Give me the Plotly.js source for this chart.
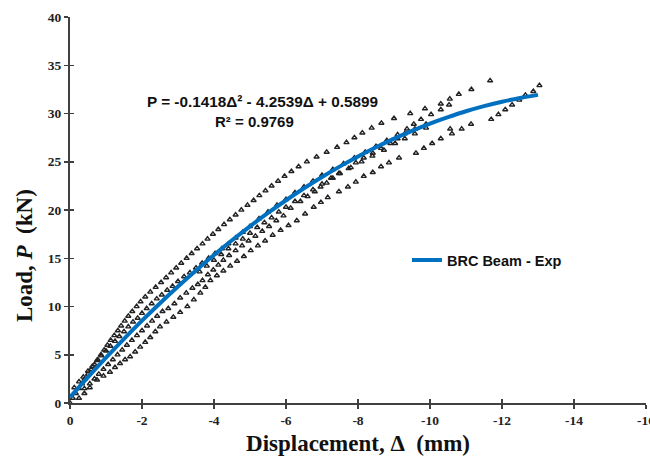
<!DOCTYPE html>
<html>
<head>
<meta charset="utf-8">
<script src="https://cdn.plot.ly/plotly-3.0.1.min.js"></script>
<style>html,body{margin:0;padding:0;background:#fff;}#chart{width:650px;height:459px;}</style>
</head>
<body>
<div id="chart"></div>
<script>
// Fitted curve
const fitX = [0,-0.5,-1,-1.5,-2,-2.5,-3,-3.5,-4,-4.5,-5,-5.5,-6,-6.5,-7,-7.5,-8,-8.5,-9,-9.5,-10,-10.5,-11,-11.5,-12,-12.5,-13];
const fitY = [0.59,2.68,4.70,6.65,8.53,10.34,12.08,13.74,15.34,16.86,18.31,19.70,21.01,22.25,23.42,24.52,25.55,26.50,27.39,28.20,28.95,29.62,30.23,30.76,31.22,31.61,31.93];

const bandAX = [0,-0.08,-0.16,-0.25,-0.33,-0.41,-0.5,-0.59,-0.68,-0.77,-0.86,-0.95,-1.04,-1.13,-1.23,-1.33,-1.42,-1.52,-1.62,-1.73,-1.85,-1.96,-2.09,-2.23,-2.38,-2.53,-2.67,-2.81,-2.95,-3.09,-3.24,-3.38,-3.53,-3.68,-3.82,-3.97,-4.12,-4.28,-4.44,-4.6,-4.76,-4.93,-5.1,-5.26,-5.43,-5.6,-5.78,-5.96,-6.15,-6.35,-6.58,-6.85,-7.13,-7.42,-7.68,-7.9,-8.12,-8.38,-8.65,-9.0,-9.45,-9.86,-10.3,-10.55,-10.8,-11.15,-11.67];
const bandAY = [0,0.5,1.0,1.5,2.0,2.5,3.0,3.5,4.0,4.5,5.0,5.5,6.0,6.5,7.0,7.5,8.0,8.5,9.0,9.5,10.0,10.5,11.0,11.5,12.0,12.5,13.0,13.5,14.0,14.5,15.0,15.5,16.0,16.5,17.0,17.5,18.0,18.5,19.0,19.5,20.0,20.5,21.0,21.5,22.0,22.5,23.0,23.5,24.0,24.5,25.0,25.5,26.0,26.5,27.0,27.5,28.0,28.5,29.0,29.5,30.0,30.5,31.0,31.5,32.0,32.5,33.4];

const bandBX = [-0.12,-0.25,-0.37,-0.5,-0.62,-0.75,-0.87,-1.0,-1.12,-1.25,-1.37,-1.5,-1.62,-1.75,-1.88,-2.0,-2.13,-2.27,-2.41,-2.55,-2.7,-2.85,-3.0,-3.17,-3.33,-3.5,-3.67,-3.85,-4.03,-4.22,-4.4,-4.6,-4.8,-5.0,-5.25,-5.5,-5.75,-6.0,-6.25,-6.5,-6.75,-7.0,-7.3,-7.6,-7.9,-8.2,-8.5,-8.8,-9.1,-9.36,-9.55,-9.75,-10.03,-10.3,-10.53];
const bandBY = [1.6,2.2,2.7,3.3,3.8,4.4,4.9,5.4,5.9,6.4,6.9,7.4,7.9,8.4,8.8,9.3,9.8,10.3,10.8,11.2,11.7,12.1,12.6,13.1,13.5,14.0,14.5,15.0,15.5,16.0,16.5,17.1,17.7,18.3,19.1,19.8,20.5,21.1,21.8,22.4,23.0,23.6,24.2,24.8,25.4,26.0,26.6,27.2,27.8,28.4,28.9,29.4,29.9,30.4,30.9];

const bandCX = [-0.4,-0.55,-0.68,-0.8,-0.93,-1.06,-1.19,-1.32,-1.45,-1.58,-1.72,-1.86,-2.0,-2.14,-2.28,-2.42,-2.57,-2.73,-2.9,-3.06,-3.23,-3.4,-3.55,-3.68,-3.83,-3.98,-4.12,-4.26,-4.42,-4.6,-4.78,-4.96,-5.15,-5.34,-5.53,-5.73,-5.93,-6.13,-6.4,-6.6,-6.8,-6.96,-7.13,-7.3,-7.47,-7.74,-7.94,-8.16,-8.41,-8.64,-8.9,-9.1,-9.3,-9.58,-9.89];
const bandCY = [1.5,2.0,2.5,3.0,3.5,4.0,4.5,5.0,5.5,6.0,6.5,7.0,7.5,8.0,8.5,9.0,9.5,9.8,10.3,10.9,11.4,11.9,12.3,12.7,13.3,13.8,14.3,14.8,15.3,15.8,16.3,16.8,17.3,17.8,18.3,18.9,19.4,20.2,20.9,21.4,21.9,22.4,22.8,23.3,23.8,24.3,24.9,25.4,25.9,26.4,26.9,27.4,27.9,28.4,28.9];

const bandC2X = [-3.6,-3.8,-4.0,-4.2,-4.4,-4.6,-4.8,-5.0,-5.2,-5.4,-5.6,-5.8,-6.0,-6.25,-6.5,-6.75,-7.0,-7.25,-7.5,-7.8,-8.1,-8.4,-8.72,-9.03,-9.3,-9.58,-9.89,-10.56];
const bandC2Y = [13.6,14.2,14.8,15.4,16.0,16.5,17.0,17.6,18.2,18.7,19.2,19.8,20.3,20.9,21.5,22.1,22.7,23.3,23.8,24.4,25.0,25.6,26.2,26.9,27.4,27.9,28.5,28.4];

const bandDX = [-0.25,-0.4,-0.55,-0.75,-0.93,-1.11,-1.25,-1.39,-1.53,-1.67,-1.81,-1.95,-2.09,-2.23,-2.37,-2.5,-2.68,-2.87,-3.06,-3.26,-3.44,-3.62,-3.76,-3.9,-4.08,-4.26,-4.45,-4.64,-4.83,-5.02,-5.22,-5.42,-5.63,-5.85,-6.07,-6.3,-6.53,-6.77,-6.97,-7.16,-7.47,-7.72,-7.94,-8.16,-8.41,-8.64,-8.86,-9.14,-9.61,-9.83,-10.06,-10.3,-10.61,-10.88,-11.14,-11.7,-11.9,-12.09,-12.28,-12.48,-12.65,-12.87,-13.04];
const bandDY = [0.5,1.0,1.6,2.4,2.8,3.2,3.7,4.1,4.5,4.8,5.3,5.8,6.3,6.8,7.4,7.9,8.4,8.9,9.4,10.0,10.7,11.4,12.0,12.7,13.2,13.7,14.2,14.7,15.2,15.8,16.3,16.8,17.4,17.9,18.4,18.9,19.6,20.3,20.8,21.3,21.9,22.4,22.9,23.5,23.9,24.5,24.9,25.4,25.9,26.4,26.9,27.4,27.9,28.4,28.9,29.4,29.9,30.4,30.9,31.4,31.9,32.3,32.9];

const xTickVals = [0,-2,-4,-6,-8,-10,-12,-14,-16];
const xTickText = ['0','-2','-4','-6','-8','-10','-12','-14','-16'];
const yTickVals = [0,5,10,15,20,25,30,35,40];
const yTickText = ['0','5','10','15','20','25','30','35','40'];

const markerStyle = {symbol:'triangle-up-open', size:4.5, color:'#222', line:{width:1.4, color:'#222'}};
function pts(x,y){ return {x:x, y:y, type:'scatter', mode:'markers', marker:markerStyle, showlegend:false, hoverinfo:'skip'}; }

const traces = [
  pts(bandAX,bandAY), pts(bandBX,bandBY), pts(bandCX,bandCY), pts(bandC2X,bandC2Y), pts(bandDX,bandDY),
  {x:fitX, y:fitY, type:'scatter', mode:'lines', name:'BRC Beam - Exp',
   line:{color:'#0070C0', width:4, shape:'spline'}}
];

const serif = 'Liberation Serif, Times New Roman, serif';
const sans = 'Liberation Sans, Arial, sans-serif';
const axisCommon = {showgrid:false, zeroline:false, showline:true, linecolor:'#404040', linewidth:2,
  ticks:'outside', ticklen:4, tickwidth:1.5, tickcolor:'#404040', ticklabeloverflow:'allow',
  tickfont:{family:serif, size:13.5, color:'#222', weight:'bold'}};

const layout = {
  width:650, height:459,
  margin:{l:70, r:4, t:17, b:56},
  paper_bgcolor:'#fff', plot_bgcolor:'#fff',
  xaxis: Object.assign({}, axisCommon, {range:[0,-16], tickvals:xTickVals, ticktext:xTickText,
    title:{text:'Displacement, Δ\u00a0\u00a0(mm)', font:{family:serif, size:23, color:'#111', weight:'bold'}, standoff:8}}),
  yaxis: Object.assign({}, axisCommon, {range:[0,40], tickvals:yTickVals, ticktext:yTickText}),
  xaxis2: {overlaying:'x', anchor:'y', side:'bottom', range:[0,-16], tickvals:xTickVals, showticklabels:false,
    ticks:'inside', ticklen:4, tickwidth:1.5, tickcolor:'#404040', showgrid:false, zeroline:false, showline:false},
  yaxis2: {overlaying:'y', anchor:'x', side:'left', range:[0,40], tickvals:yTickVals, showticklabels:false,
    ticks:'inside', ticklen:4, tickwidth:1.5, tickcolor:'#404040', showgrid:false, zeroline:false, showline:false},
  showlegend:true,
  legend:{x:0.585, y:0.37, xanchor:'left', yanchor:'middle', bgcolor:'rgba(0,0,0,0)',
    font:{family:sans, size:14.5, color:'#111', weight:'bold'}},
  annotations:[
    {xref:'paper', yref:'paper', x:-0.08, y:0.383, showarrow:false, xanchor:'center', yanchor:'middle', textangle:-90,
     text:'Load, <i>P</i>\u00a0\u00a0(kN)', font:{family:serif, size:23, color:'#111', weight:'bold'}},
    {xref:'paper', yref:'paper', x:0.334, y:0.782, showarrow:false, xanchor:'center', yanchor:'middle',
     text:'P = -0.1418Δ² - 4.2539Δ + 0.5899', font:{family:sans, size:15.3, color:'#111', weight:'bold'}},
    {xref:'paper', yref:'paper', x:0.321, y:0.728, showarrow:false, xanchor:'center', yanchor:'middle',
     text:'R² = 0.9769', font:{family:sans, size:15, color:'#111', weight:'bold'}}
  ]
};
traces.push({x:[null], y:[null], xaxis:'x2', yaxis:'y2', type:'scatter', mode:'markers', showlegend:false, hoverinfo:'skip'});
Plotly.newPlot('chart', traces, layout, {displayModeBar:false, staticPlot:true});
</script>
</body>
</html>
